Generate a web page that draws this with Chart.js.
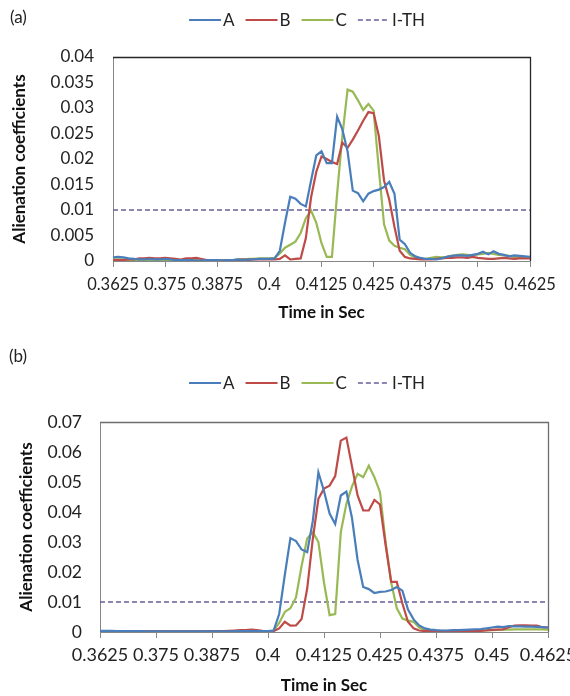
<!DOCTYPE html>
<html>
<head>
<meta charset="utf-8">
<script src="https://cdn.jsdelivr.net/npm/chart.js@4.4.1/dist/chart.umd.min.js"></script>
<style>
  html, body { margin: 0; padding: 0; background: #fff; }
  #wrap { position: relative; width: 570px; height: 696px; }
  .panel { position: absolute; left: 0; width: 570px; }
  #pa { top: 0; height: 340px; }
  #pb { top: 340px; height: 356px; }
</style>
</head>
<body>
<div id="wrap">
  <div class="panel" id="pa"><canvas id="ca"></canvas></div>
  <div class="panel" id="pb"><canvas id="cb"></canvas></div>
</div>
<script>
// Sampling: 0.3625 s to 0.4625 s, one sample every 1.25 ms
const tStart = 0.3625;
const tStep = 0.00125;
const nSamples = 81;
const times = Array.from({ length: nSamples }, (_, i) => (tStart + i * tStep).toFixed(5));
const tickLabels = ['0.3625', '0.375', '0.3875', '0.4', '0.4125', '0.425', '0.4375', '0.45', '0.4625'];
const seriesNames = ['A', 'B', 'C', 'I-TH'];
const threshold = 0.01;

// Panel (a)
const aA = [0.0007,0.0008,0.0007,0.0005,0.0004,0.0003,0.0003,0.0004,0.0003,0.0003,
  0.0004,0.0003,0.0002,0.0002,0.0002,0.0002,0.0001,0.0001,0.0002,0.0002,
  0.0002,0.0001,0.0002,0.0002,0.0003,0.0002,0.0003,0.0003,0.0004,0.0004,
  0.0004,0.0005,0.0020,0.0075,0.0126,0.0122,0.0112,0.0107,0.0158,0.0207,
  0.0215,0.0192,0.0192,0.0283,0.0258,0.0215,0.0138,0.0133,0.0117,0.0132,
  0.0137,0.0140,0.0145,0.0155,0.0132,0.0042,0.0033,0.0016,0.0009,0.0006,
  0.0004,0.0004,0.0003,0.0005,0.0008,0.0010,0.0011,0.0011,0.0010,0.0012,
  0.0014,0.0018,0.0013,0.0019,0.0014,0.0012,0.0009,0.0011,0.0010,0.0009,
  0.0008];
const aB = [0.0002,0.0002,0.0002,0.0003,0.0003,0.0005,0.0005,0.0006,0.0005,0.0005,
  0.0006,0.0005,0.0004,0.0003,0.0005,0.0005,0.0006,0.0004,0.0002,0.0002,
  0.0001,0.0001,0.0002,0.0002,0.0002,0.0003,0.0002,0.0003,0.0003,0.0003,
  0.0003,0.0003,0.0004,0.0011,0.0003,0.0004,0.0005,0.0045,0.0125,0.0175,
  0.0205,0.0200,0.0194,0.0190,0.0232,0.0222,0.0238,0.0256,0.0275,0.0292,
  0.0290,0.0245,0.0158,0.0120,0.0067,0.0020,0.0008,0.0005,0.0004,0.0003,
  0.0003,0.0003,0.0004,0.0005,0.0006,0.0006,0.0007,0.0007,0.0006,0.0008,
  0.0006,0.0005,0.0004,0.0004,0.0005,0.0006,0.0005,0.0004,0.0005,0.0005,
  0.0005];
const aC = [0.0003,0.0003,0.0003,0.0002,0.0002,0.0002,0.0002,0.0002,0.0002,0.0002,
  0.0002,0.0002,0.0002,0.0002,0.0002,0.0002,0.0002,0.0001,0.0001,0.0001,
  0.0001,0.0002,0.0002,0.0002,0.0003,0.0003,0.0004,0.0004,0.0005,0.0005,
  0.0005,0.0006,0.0015,0.0026,0.0032,0.0038,0.0055,0.0084,0.0099,0.0075,
  0.0035,0.0008,0.0008,0.0132,0.0245,0.0336,0.0332,0.0315,0.0296,0.0308,
  0.0295,0.0180,0.0072,0.0040,0.0030,0.0026,0.0023,0.0012,0.0007,0.0005,
  0.0004,0.0006,0.0008,0.0007,0.0008,0.0010,0.0012,0.0013,0.0012,0.0011,
  0.0013,0.0014,0.0016,0.0014,0.0012,0.0011,0.0010,0.0008,0.0007,0.0007,
  0.0007];

// Panel (b)
const bA = [0.0004,0.0004,0.0004,0.0003,0.0003,0.0003,0.0003,0.0003,0.0002,0.0002,
  0.0002,0.0002,0.0002,0.0002,0.0002,0.0002,0.0002,0.0002,0.0002,0.0002,
  0.0002,0.0002,0.0002,0.0002,0.0003,0.0003,0.0003,0.0003,0.0003,0.0003,
  0.0003,0.0005,0.0060,0.0190,0.0313,0.0303,0.0275,0.0266,0.0370,0.0532,
  0.0470,0.0395,0.0360,0.0455,0.0468,0.0380,0.0240,0.0150,0.0143,0.0130,
  0.0134,0.0135,0.0140,0.0150,0.0138,0.0075,0.0042,0.0022,0.0012,0.0008,
  0.0006,0.0005,0.0005,0.0006,0.0006,0.0007,0.0008,0.0009,0.0010,0.0012,
  0.0015,0.0018,0.0016,0.0020,0.0019,0.0019,0.0018,0.0018,0.0017,0.0016,
  0.0015];
const bB = [0.0003,0.0003,0.0003,0.0003,0.0002,0.0002,0.0002,0.0002,0.0002,0.0002,
  0.0002,0.0002,0.0002,0.0002,0.0002,0.0002,0.0002,0.0002,0.0002,0.0002,
  0.0003,0.0003,0.0003,0.0004,0.0005,0.0006,0.0006,0.0008,0.0006,0.0004,
  0.0003,0.0003,0.0012,0.0034,0.0021,0.0022,0.0043,0.0145,0.0310,0.0444,
  0.0478,0.0488,0.0520,0.0638,0.0648,0.0552,0.0455,0.0405,0.0405,0.0440,
  0.0425,0.0290,0.0167,0.0167,0.0095,0.0034,0.0012,0.0005,0.0003,0.0003,
  0.0003,0.0003,0.0002,0.0003,0.0003,0.0003,0.0004,0.0004,0.0004,0.0005,
  0.0007,0.0008,0.0009,0.0016,0.0021,0.0022,0.0022,0.0021,0.0021,0.0016,
  0.0015];
const bC = [0.0002,0.0002,0.0002,0.0002,0.0002,0.0002,0.0002,0.0002,0.0002,0.0002,
  0.0002,0.0002,0.0001,0.0001,0.0001,0.0001,0.0001,0.0001,0.0001,0.0001,
  0.0001,0.0001,0.0002,0.0002,0.0002,0.0002,0.0002,0.0002,0.0002,0.0002,
  0.0002,0.0005,0.0030,0.0067,0.0079,0.0115,0.0220,0.0312,0.0333,0.0300,
  0.0165,0.0056,0.0060,0.0333,0.0427,0.0485,0.0527,0.0516,0.0554,0.0516,
  0.0466,0.0300,0.0165,0.0079,0.0045,0.0038,0.0034,0.0015,0.0007,0.0005,
  0.0004,0.0004,0.0004,0.0004,0.0004,0.0004,0.0005,0.0005,0.0005,0.0006,
  0.0006,0.0007,0.0008,0.0008,0.0009,0.0009,0.0009,0.0009,0.0009,0.0009,
  0.0008];

const FONT = 'Lato, "Open Sans", sans-serif';
const colors = ['#4A7EBB', '#BE4B48', '#98B954', '#6B5E9B'];

// Legend row of short line samples plus the panel tag, drawn on the canvas
const lineLegend = {
  id: 'lineLegend',
  afterDraw(chart, args, o) {
    const ctx = chart.ctx;
    ctx.save();
    ctx.font = `${o.fontSize}px ${FONT}`;
    const items = chart.data.datasets.map(ds => ({
      label: ds.label, color: ds.borderColor, dash: ds.borderDash || [], w: ds.borderWidth
    }));
    const widths = items.map(it => o.lineLen + o.gap + ctx.measureText(it.label).width);
    const total = widths.reduce((a, b) => a + b, 0) + o.spacing * (items.length - 1);
    let x = o.cx - total / 2;
    items.forEach((it, i) => {
      ctx.strokeStyle = it.color;
      ctx.lineWidth = it.w;
      ctx.setLineDash(it.dash);
      ctx.beginPath();
      ctx.moveTo(x, o.cy);
      ctx.lineTo(x + o.lineLen, o.cy);
      ctx.stroke();
      ctx.setLineDash([]);
      ctx.fillStyle = '#222';
      ctx.textBaseline = 'middle';
      ctx.textAlign = 'left';
      ctx.fillText(it.label, x + o.lineLen + o.gap, o.cy + 1);
      x += widths[i] + o.spacing;
    });
    ctx.font = `${o.tagSize}px ${FONT}`;
    ctx.fillText(o.tag, o.tagX, o.tagY);
    ctx.restore();
  }
};

// Frame on the top and right sides of the plot area
const plotFrame = {
  id: 'plotFrame',
  beforeDatasetsDraw(chart, args, o) {
    const { left, right, top, bottom } = chart.chartArea;
    const ctx = chart.ctx;
    ctx.save();
    ctx.strokeStyle = o.color;
    ctx.lineWidth = o.width;
    ctx.beginPath();
    ctx.moveTo(left, top + 0.5);
    ctx.lineTo(right + 0.5, top + 0.5);
    ctx.lineTo(right + 0.5, bottom);
    ctx.stroke();
    ctx.restore();
  }
};

function makePanel(canvasId, seriesA, seriesB, seriesC, cfg) {
  const values = [seriesA, seriesB, seriesC, times.map(() => threshold)];
  const datasets = values.map((v, i) => ({
    label: seriesNames[i],
    data: v,
    borderColor: colors[i],
    backgroundColor: colors[i],
    borderWidth: i === 3 ? 1.6 : 2.2,
    borderDash: i === 3 ? [5, 3] : [],
    pointRadius: 0,
    tension: 0
  }));
  return new Chart(document.getElementById(canvasId), {
    type: 'line',
    data: { labels: times, datasets },
    plugins: [lineLegend, plotFrame],
    options: {
      responsive: true,
      maintainAspectRatio: false,
      animation: false,
      layout: { padding: { left: 0, right: cfg.padRight, top: cfg.padTop, bottom: 0 } },
      plugins: {
        legend: { display: false },
        tooltip: { enabled: false },
        lineLegend: {
          cx: 307, cy: cfg.legendY, fontSize: 17, lineLen: 32, gap: 2, spacing: 11,
          tag: cfg.tag, tagX: cfg.tagX, tagY: cfg.tagY, tagSize: 17
        },
        plotFrame: { color: cfg.frameColor, width: 1.3 }
      },
      scales: {
        x: {
          type: 'category',
          offset: false,
          ticks: {
            autoSkip: false, maxRotation: 0, minRotation: 0,
            padding: cfg.xTickPad,
            color: '#222',
            font: { family: FONT, size: cfg.xFont },
            callback: (v, i) => (i % 10 === 0 ? tickLabels[i / 10] : null)
          },
          grid: { display: true, drawOnChartArea: false, drawTicks: true, tickLength: 6, color: '#868686' },
          border: { display: true, color: '#868686', width: 1 },
          title: {
            display: true, text: 'Time in Sec', color: '#111',
            font: { family: FONT, size: 17, weight: 'bold' },
            padding: { top: 0, bottom: cfg.xTitlePad }
          },
          afterFit: s => { s.height = cfg.xHeight; s.paddingLeft = 0; s.paddingRight = 0; }
        },
        y: {
          min: 0, max: cfg.yMax,
          ticks: {
            stepSize: cfg.yStep,
            padding: cfg.yTickPad,
            color: '#222',
            font: { family: FONT, size: cfg.yFont },
            callback: v => String(+v.toFixed(4))
          },
          grid: { display: false, drawTicks: false },
          border: { display: true, color: '#868686', width: 1 },
          title: {
            display: true, text: 'Alienation coefficients', color: '#111',
            font: { family: FONT, size: 17, weight: 'bold' },
            padding: { top: cfg.yTitlePad, bottom: 0 }
          },
          afterFit: s => { s.width = cfg.plotLeft; }
        }
      }
    }
  });
}

makePanel('ca', aA, aB, aC, {
  tag: '(a)', tagX: 10, tagY: 18, legendY: 20,
  padTop: 57, padRight: 40, plotLeft: 113,
  xHeight: 79, xTickPad: 8, xTitlePad: 17, xFont: 16.5,
  yMax: 0.04, yStep: 0.005, yTickPad: 19, yTitlePad: 9, yFont: 17,
  frameColor: '#262626'
});

makePanel('cb', bA, bB, bC, {
  tag: '(b)', tagX: 9, tagY: 17, legendY: 43,
  padTop: 82, padRight: 22, plotLeft: 100,
  xHeight: 64, xTickPad: 6, xTitlePad: 0, xFont: 18,
  yMax: 0.07, yStep: 0.01, yTickPad: 18, yTitlePad: 16, yFont: 17.5,
  frameColor: '#6e6e6e'
});
</script>
</body>
</html>
